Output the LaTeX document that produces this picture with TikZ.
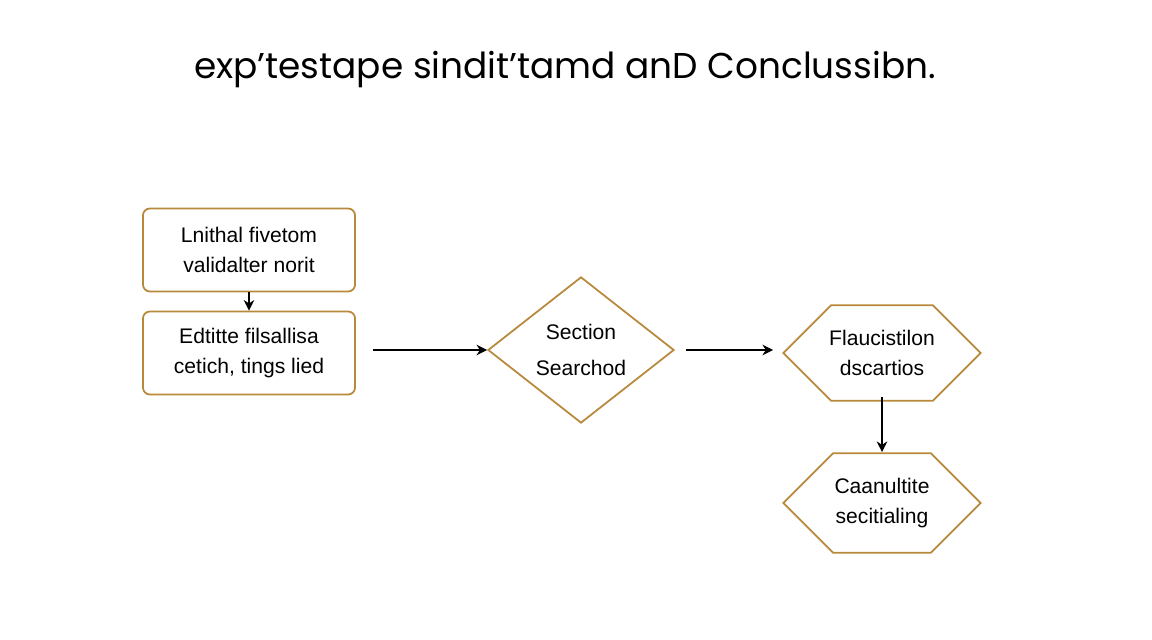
\documentclass[tikz,border=0pt]{standalone}
\usepackage{fontspec}
\setmainfont{Liberation Sans}
\newfontfamily\titlefont{Poppins}
\usetikzlibrary{shapes.geometric,shapes.misc,arrows.meta}
\definecolor{gold}{HTML}{B8893A}
\begin{document}
\begin{tikzpicture}[x=0.01cm,y=-0.01cm,
  box/.style={draw=gold,line width=0.5pt,rounded corners=2pt,minimum width=2.12cm,minimum height=0.83cm,align=center,font=\fontsize{6}{8.5}\selectfont,inner sep=0pt},
  oct/.style={draw=gold,line width=0.5pt,chamfered rectangle,chamfered rectangle xsep=0.25cm,chamfered rectangle ysep=0.25cm,minimum width=1.97cm,minimum height=0.83cm,align=center,font=\fontsize{6}{8.5}\selectfont,inner sep=0pt},
  dia/.style={draw=gold,line width=0.5pt,diamond,minimum width=1.86cm,minimum height=1.46cm,align=center,font=\fontsize{6}{10}\selectfont,inner sep=0pt},
  arr/.style={-{Stealth[length=3pt,width=3pt]},line width=0.45pt}]
\useasboundingbox (0,0) rectangle (1152,640);
\fill[white] (0,0) rectangle (1152,640);
\node[font=\titlefont\fontsize{10.2}{12}\selectfont] (title) at (565,70) {exp’testape sindit’tamd anD Conclussibn.};
\node[box] (b1) at (249,250) {Lnithal fivetom\\validalter norit};
\node[box] (b2) at (249,353) {Edtitte filsallisa\\cetich, tings lied};
\node[dia] (d) at (581,350) {Section\\Searchod};
\node[oct] (o1) at (882,353) {Flaucistilon\\dscartios};
\node[oct] (o2) at (882,503) {Caanultite\\secitialing};
\coordinate (s1) at (373,350);
\coordinate (s2) at (686,350);
\coordinate (e2) at (773,350);
\coordinate (s3) at (882,397);
\coordinate (e3) at (882,452);
\draw[arr] (b1) -- (b2);
\draw[arr] (s1) -- (d.west);
\draw[arr] (s2) -- (e2);
\draw[arr] (s3) -- (e3);
\end{tikzpicture}
\end{document}
